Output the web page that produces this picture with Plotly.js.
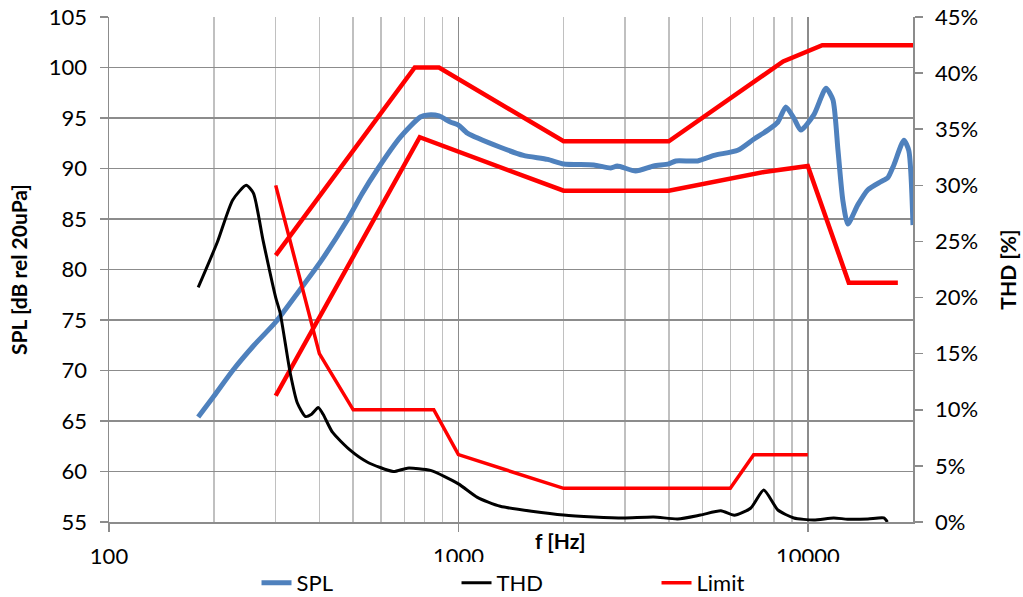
<!DOCTYPE html>
<html>
<head>
<meta charset="utf-8">
<script src="https://cdn.plot.ly/plotly-3.0.1.min.js"></script>
<style>html,body{margin:0;padding:0;background:#fff;}#chart{width:1023px;height:597px;}</style>
</head>
<body>
<div id="chart"></div>
<script>
// SPL response (dB rel 20uPa)
var splFreq = [180,200,226,260,300,352,400,481,530,586,682,778,820,880,948,1000,1061,1318,1535,1800,2000,2440,2730,2850,3215,3620,4000,4190,4840,5390,6300,7000,7680,8210,8650,9120,9550,10400,11270,11800,12200,12590,13020,13900,14860,16190,16950,17630,18830,19450,20000];
var splDb   = [65.4,67.5,70.0,72.5,74.8,78.0,80.6,84.9,87.5,89.9,93.1,95.1,95.3,95.2,94.6,94.3,93.5,92.1,91.3,90.9,90.45,90.35,90.05,90.25,89.75,90.25,90.45,90.75,90.75,91.3,91.8,92.9,93.8,94.6,96.1,95.0,93.8,95.3,97.95,96.8,91.8,86.9,84.5,86.4,87.9,88.7,89.1,90.35,92.8,91.8,84.4];
// THD (%)
var thdFreq = [180,204,226,247,259,276,300,309,330,346,365,380,397,410,436,490,548,651,714,832,1000,1133,1318,2000,2440,2970,3620,4240,4930,5640,6160,6870,7480,8210,9120,10400,11860,13000,14860,16500,16900];
var thdPct  = [20.9,24.9,28.7,30.0,29.3,25.1,20.0,18.6,13.3,10.6,9.4,9.6,10.2,9.6,8.0,6.4,5.35,4.5,4.8,4.6,3.4,2.2,1.4,0.62,0.45,0.36,0.45,0.27,0.62,1.0,0.6,1.25,2.85,1.07,0.36,0.18,0.36,0.25,0.27,0.36,0.0];
// SPL limits (dB)
var upperFreq = [300,750,880,2000,4000,8500,11000,20000];
var upperDb   = [81.4,100,100,92.7,92.7,100.6,102.2,102.2];
var lowerFreq = [300,775,2000,4000,7500,10000,13100,18100];
var lowerDb   = [67.5,93.1,87.8,87.8,89.65,90.25,78.7,78.7];
// THD limit (%)
var thdLimFreq = [300,400,500,850,1000,2000,6000,7000,10000];
var thdLimPct  = [30,15,10,10,6,3,3,6,6];
// axis ticks
var xTickVals = [100,1000,10000];
var xTickText = ['100','1000','10000'];
var xMinorVals = [200,300,400,500,600,700,800,900,2000,3000,4000,5000,6000,7000,8000,9000,20000];

var FONT = 'Lato, "Liberation Sans", sans-serif';
var traces = [
  {x: splFreq, y: splDb, name: 'SPL', type: 'scatter', mode: 'lines',
   line: {color: '#4F81BD', width: 5, shape: 'spline', smoothing: 0.6}, yaxis: 'y'},
  {x: upperFreq, y: upperDb, name: 'Limit', type: 'scatter', mode: 'lines', legendgroup: 'lim',
   line: {color: '#FF0000', width: 4.5}, yaxis: 'y', showlegend: false},
  {x: lowerFreq, y: lowerDb, name: 'Limit', type: 'scatter', mode: 'lines', legendgroup: 'lim',
   line: {color: '#FF0000', width: 4.5}, yaxis: 'y', showlegend: false},
  {x: thdFreq, y: thdPct, name: 'THD', type: 'scatter', mode: 'lines',
   line: {color: '#000000', width: 3, shape: 'spline', smoothing: 0.6}, yaxis: 'y2'},
  {x: thdLimFreq, y: thdLimPct, name: 'Limit', type: 'scatter', mode: 'lines', legendgroup: 'lim',
   line: {color: '#FF0000', width: 3.5}, yaxis: 'y2', showlegend: true}
];

var layout = {
  width: 1023, height: 597,
  margin: {l: 109, r: 110, t: 17, b: 75},
  paper_bgcolor: '#fff', plot_bgcolor: '#fff',
  font: {family: FONT, size: 22, color: '#000'},
  showlegend: true,
  legend: {orientation: 'h', xref: 'container', yref: 'container', x: 0.544, xanchor: 'center', y: 0.0235, yanchor: 'middle',
           font: {family: FONT, size: 22, color: '#000'}, traceorder: 'normal',
           entrywidth: 155, entrywidthmode: 'pixels'},
  xaxis: {type: 'log', range: [2, Math.log10(20000)], tickmode: 'array', tickvals: xTickVals, ticktext: xTickText,
          automargin: false,
          showgrid: true, gridcolor: '#8c8c8c', gridwidth: 1.5, ticks: 'outside', ticklen: 8, tickcolor: '#8c8c8c',
          tickwidth: 1.5, showline: true, linecolor: '#8c8c8c', linewidth: 1.5, zeroline: false,
          ticklabelstandoff: 6,
          minor: {tickmode: 'array', tickvals: xMinorVals, showgrid: true, gridcolor: '#c0c0c0', gridwidth: 1.5, ticks: ''},
          tickfont: {family: FONT, size: 22}},
  yaxis: {range: [55, 105], dtick: 5, tick0: 55, showgrid: true, gridcolor: '#8c8c8c', gridwidth: 1.5,
          automargin: false,
          ticks: 'outside', ticklen: 8, tickcolor: '#8c8c8c', tickwidth: 1.5, showline: true, linecolor: '#8c8c8c',
          linewidth: 1.5, zeroline: false, ticklabelstandoff: 8, tickfont: {family: FONT, size: 22},
          title: {text: '<b>SPL [dB rel 20uPa]</b>', font: {family: FONT, size: 21}, standoff: 15}},
  yaxis2: {overlaying: 'y', side: 'right', range: [0, 45], dtick: 5, tick0: 0, ticksuffix: '%', showgrid: false,
           automargin: false,
           ticks: 'outside', ticklen: 8, tickcolor: '#8c8c8c', tickwidth: 1.5, showline: true, linecolor: '#8c8c8c',
           linewidth: 1.5, zeroline: false, ticklabelstandoff: 8, tickfont: {family: FONT, size: 22},
           title: {text: '<b>THD [%]</b>', font: {family: FONT, size: 21}, standoff: 24}},
  annotations: [{text: '<b>f [Hz]</b>', xref: 'paper', yref: 'paper', x: 0.561, y: -0.036, xanchor: 'center',
                 yanchor: 'middle', showarrow: false, font: {family: FONT, size: 21, color: '#000'}}]
};

Plotly.newPlot('chart', traces, layout, {displayModeBar: false, staticPlot: true});
</script>
</body>
</html>
